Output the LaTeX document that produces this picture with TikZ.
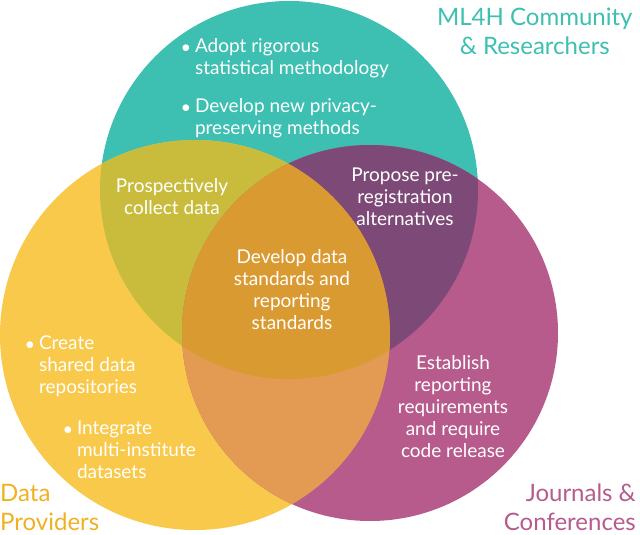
\documentclass[tikz,border=0pt]{standalone}
\usepackage{fontspec}
\setmainfont{Lato}
\definecolor{cT}{HTML}{3DBFB2}
\definecolor{cY}{HTML}{F8C94A}
\definecolor{cM}{HTML}{B65B8C}
\definecolor{cTY}{HTML}{C9BC3C}
\definecolor{cTM}{HTML}{7D4A78}
\definecolor{cYM}{HTML}{E39A52}
\definecolor{cC}{HTML}{DA9A32}
\definecolor{lY}{HTML}{F0B020}
\begin{document}
\begin{tikzpicture}[x=1pt,y=-1pt,
  wt/.style={text=white,font=\fontsize{19}{22}\selectfont,align=center},
  wl/.style={text=white,font=\fontsize{19}{22}\selectfont,align=left},
  lab/.style={font=\fontsize{24}{29}\selectfont}]
\useasboundingbox (0,0) rectangle (640,535);
\def\T{(289,190) circle[radius=189]}
\def\Y{(195,335) circle[radius=195]}
\def\M{(370,333) circle[radius=188]}
\fill[cT] \T; \fill[cY] \Y; \fill[cM] \M;
\begin{scope}\clip \T; \fill[cTY] \Y; \fill[cTM] \M; \end{scope}
\begin{scope}\clip \Y; \fill[cYM] \M; \end{scope}
\begin{scope}\clip \T; \clip \Y; \fill[cC] \M; \end{scope}
\node[wl,anchor=west] (t1) at (178,58) {$\bullet$ Adopt rigorous\\\phantom{$\bullet$ }statistical methodology};
\node[wl,anchor=west] (t2) at (178,118) {$\bullet$ Develop new privacy-\\\phantom{$\bullet$ }preserving methods};
\node[wt] (ty) at (172,197) {Prospectively\\collect data};
\node[wt] (tm) at (405,197) {Propose pre-\\registration\\alternatives};
\node[wt] (c) at (292,290) {Develop data\\standards and\\reporting\\standards};
\node[wl,anchor=west] (y1) at (22,366) {$\bullet$ Create\\\phantom{$\bullet$ }shared data\\\phantom{$\bullet$ }repositories};
\node[wl,anchor=west] (y2) at (60,450) {$\bullet$ Integrate\\\phantom{$\bullet$ }multi-institute\\\phantom{$\bullet$ }datasets};
\node[wt] (m1) at (453,407) {Establish\\reporting\\requirements\\and require\\code release};
\node[lab,text=cT,align=center,anchor=north east] (l1) at (636,4) {ML4H Community\\\& Researchers};
\node[lab,text=lY,align=left,anchor=south west,inner sep=2pt] (l2) at (-2,533) {Data\\Providers};
\node[lab,text=cM,align=right,anchor=south east,inner sep=2pt] (l3) at (638,533) {Journals \&\\Conferences};
\end{tikzpicture}
\end{document}
